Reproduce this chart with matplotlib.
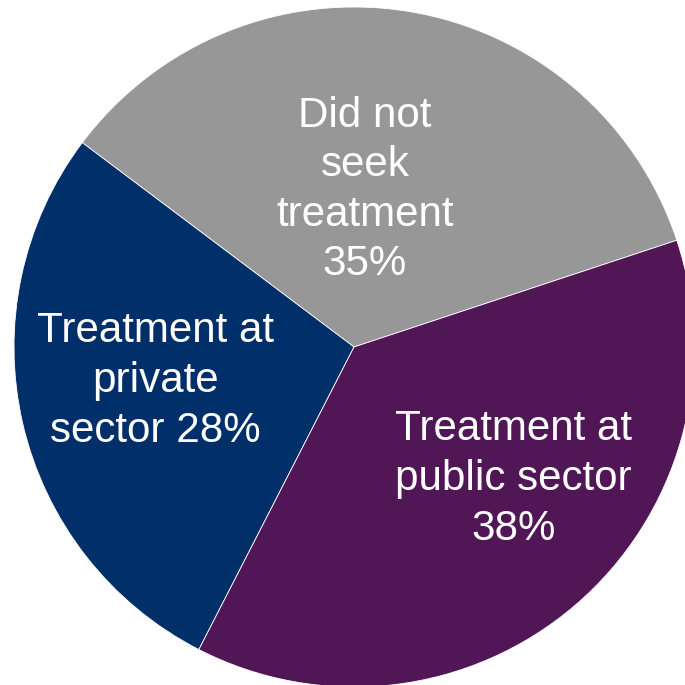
import matplotlib
matplotlib.use("Agg")
import matplotlib.pyplot as plt

# Share of respondents by where they sought treatment
categories = ["Did not seek treatment", "Treatment at private sector", "Treatment at public sector"]
shares = [35, 28, 38]
label_texts = ["Did not\nseek\ntreatment\n35%", "Treatment at\nprivate\nsector 28%", "Treatment at\npublic sector\n38%"]

colors = ["#979797", "#002F6A", "#501656"]
label_pos = [(0.032, 0.462), (-0.585, -0.1), (0.468, -0.388)]

plt.rcParams["font.family"] = ["Liberation Sans", "DejaVu Sans"]

fig = plt.figure(figsize=(6.85, 6.85), dpi=100)
ax = fig.add_axes([0, 0, 1, 1])
ax.pie(shares, colors=colors, startangle=18.3, counterclock=True,
       wedgeprops=dict(edgecolor="white", linewidth=0.6))
ax.set_xlim(-354 / 340, (685 - 354) / 340)
ax.set_ylim(-338 / 340, 347 / 340)
ax.set_aspect("equal")
ax.axis("off")

for txt, (x, y) in zip(label_texts, label_pos):
    ax.text(x, y, txt, ha="center", va="center", color="white",
            fontsize=30.3, linespacing=1.31)

fig.savefig("out.png", dpi=100)
